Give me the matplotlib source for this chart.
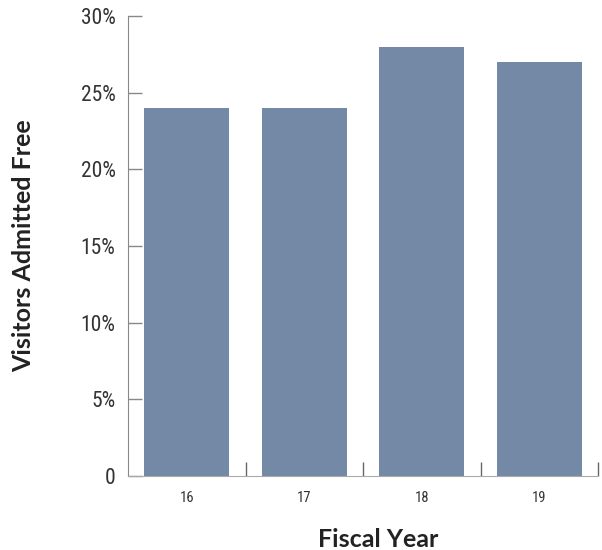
import matplotlib.pyplot as plt
import numpy as np
from matplotlib import font_manager

years = ['16', '17', '18', '19']
free_pct = [24, 24, 28, 27]
y_ticks = [0, 5, 10, 15, 20, 25, 30]
y_labels = ['0', '5%', '10%', '15%', '20%', '25%', '30%']

names = set(f.name for f in font_manager.fontManager.ttflist)
cond = [n for n in ['Roboto Condensed', 'Liberation Sans Narrow', 'DejaVu Sans Condensed', 'Roboto'] if n in names]
plt.rcParams['font.family'] = cond + ['DejaVu Sans']

fig = plt.figure(figsize=(6.02, 5.50), dpi=100)
ax = fig.add_axes([128 / 602, 74 / 550, 470 / 602, 460 / 550])

x = np.arange(len(years))
ax.bar(x, free_pct, width=0.72, color='#7389a5', zorder=2)

ax.set_xlim(-0.5, len(years) - 0.5)
ax.set_ylim(0, 30)

ax.set_yticks(y_ticks)
ax.set_yticklabels(y_labels, fontsize=15.5, color='#333333')
ax.tick_params(axis='y', direction='in', length=10, width=1, color='#888888', pad=9)

ax.set_xticks(x)
ax.set_xticklabels(years, fontsize=10.5, color='#333333')
ax.tick_params(axis='x', which='major', length=0, pad=11)
ax.set_xticks(np.arange(0.5, len(years), 1.0), minor=True)
ax.tick_params(axis='x', which='minor', direction='in', length=10, width=1, color='#666666')

for s in ['top', 'right']:
    ax.spines[s].set_visible(False)
ax.spines['left'].set_color('#888888')
ax.spines['bottom'].set_color('#aaaaaa')

ax.set_ylabel('Visitors Admitted Free', fontsize=18, fontweight='bold', color='#222222',
              family=['Lato', 'DejaVu Sans'])
ax.yaxis.set_label_coords(-0.198, 0.5)
ax.set_xlabel('Fiscal Year', fontsize=18, fontweight='bold', color='#222222',
              family=['Lato', 'DejaVu Sans'])
ax.xaxis.set_label_coords(0.532, -0.112)

fig.savefig('out.png', dpi=100)
